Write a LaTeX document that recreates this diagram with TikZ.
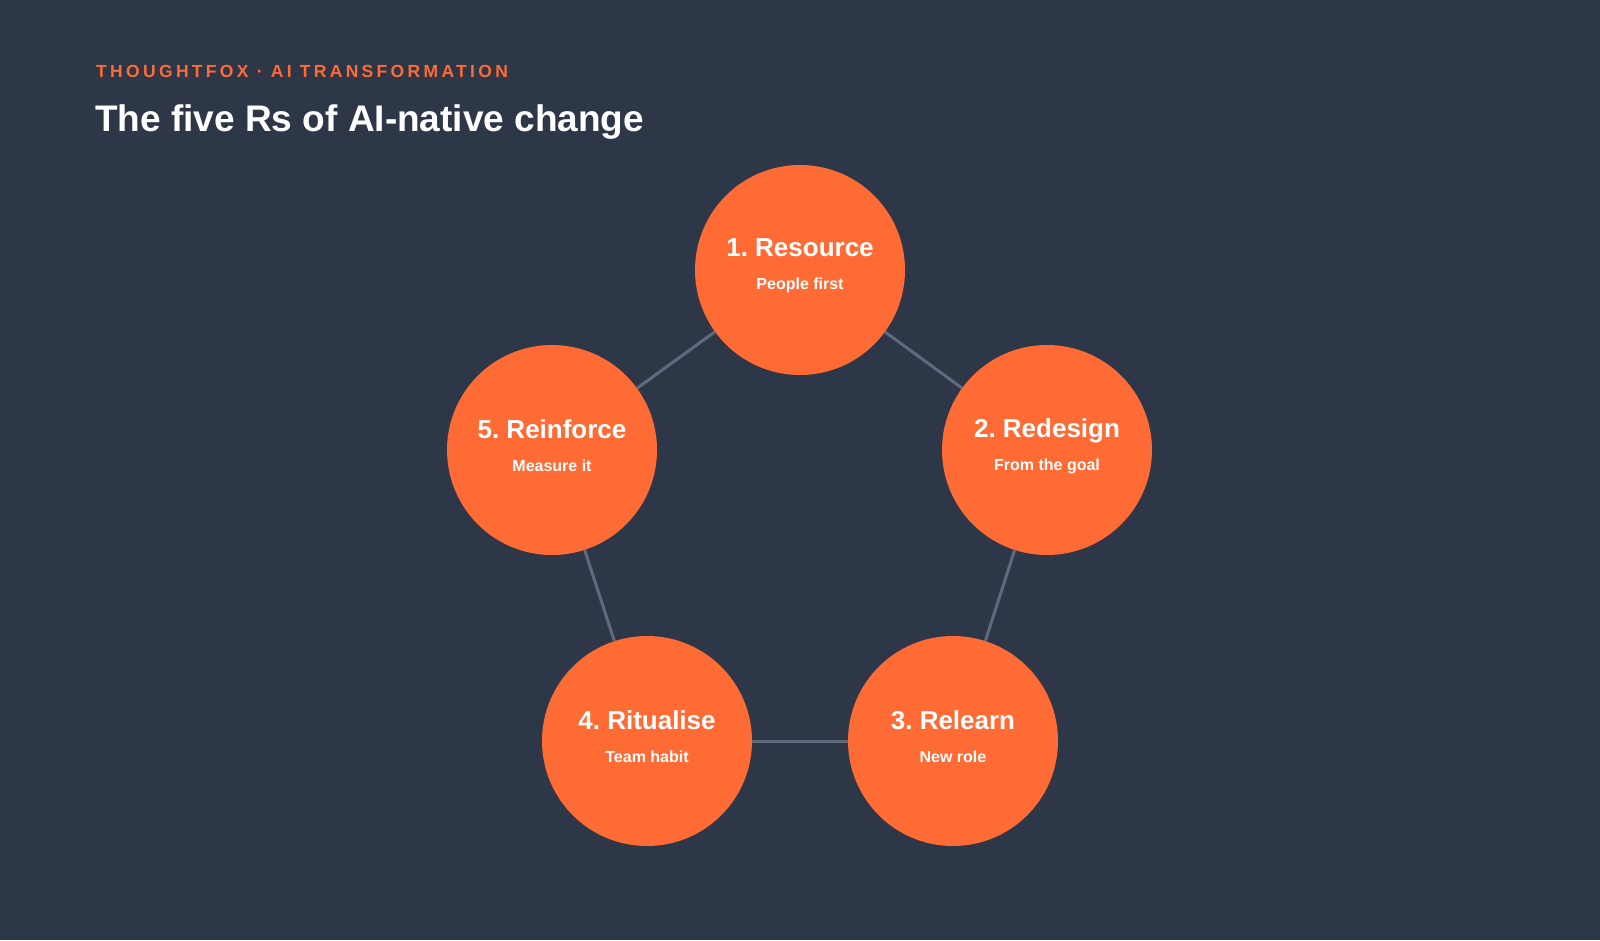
\documentclass[tikz,border=0pt]{standalone}
\usepackage{fontspec}
\setmainfont{Liberation Sans}
\usetikzlibrary{positioning}
\frenchspacing
\definecolor{bgblue}{HTML}{2E3748}
\definecolor{foxorange}{HTML}{FF6B35}
\definecolor{linkgray}{HTML}{5F6B7D}
\tikzset{
  rstep/.style={circle, fill=foxorange, minimum size=210pt, inner sep=0pt},
  rtext/.style={text=white, align=center, inner sep=0pt, yshift=4pt,
    font=\bfseries\fontsize{16}{33}\selectfont},
  link/.style={linkgray, line width=3pt},
}
\newcommand{\steptext}[2]{{\fontsize{26}{33}\selectfont #1}\\#2}
\begin{document}
\begin{tikzpicture}[x=1pt,y=1pt]
\fill[bgblue] (0,0) rectangle (1600,-940);
\useasboundingbox (0,0) rectangle (1600,-940);
% Header
\node[anchor=west, text=foxorange, inner sep=0pt] (kicker) at (96,-71)
  {\fontsize{17.5}{20}\selectfont\bfseries\addfontfeatures{LetterSpace=19}THOUGHTFOX · AI TRANSFORMATION};
\node[anchor=west, text=white, inner sep=0pt] (title) at (95,-122)
  {\fontsize{37}{40}\selectfont\bfseries The five Rs of AI-native change};
% Circles
\node[rstep] (R1) at (800,-270) {};
\node[rstep] (R2) at (1047,-450) {};
\node[rstep] (R3) at (953,-741) {};
\node[rstep] (R4) at (647,-741) {};
\node[rstep] (R5) at (552,-450) {};
\node[rtext] (T1) at (R1) {\steptext{1. Resource}{People first}};
\node[rtext] (T2) at (R2) {\steptext{2. Redesign}{From the goal}};
\node[rtext] (T3) at (R3) {\steptext{3. Relearn}{New role}};
\node[rtext] (T4) at (R4) {\steptext{4. Ritualise}{Team habit}};
\node[rtext] (T5) at (R5) {\steptext{5. Reinforce}{Measure it}};
% Links
\draw[link] (R1) -- (R2);
\draw[link] (R2) -- (R3);
\draw[link] (R3) -- (R4);
\draw[link] (R4) -- (R5);
\draw[link] (R5) -- (R1);
\end{tikzpicture}
\end{document}
